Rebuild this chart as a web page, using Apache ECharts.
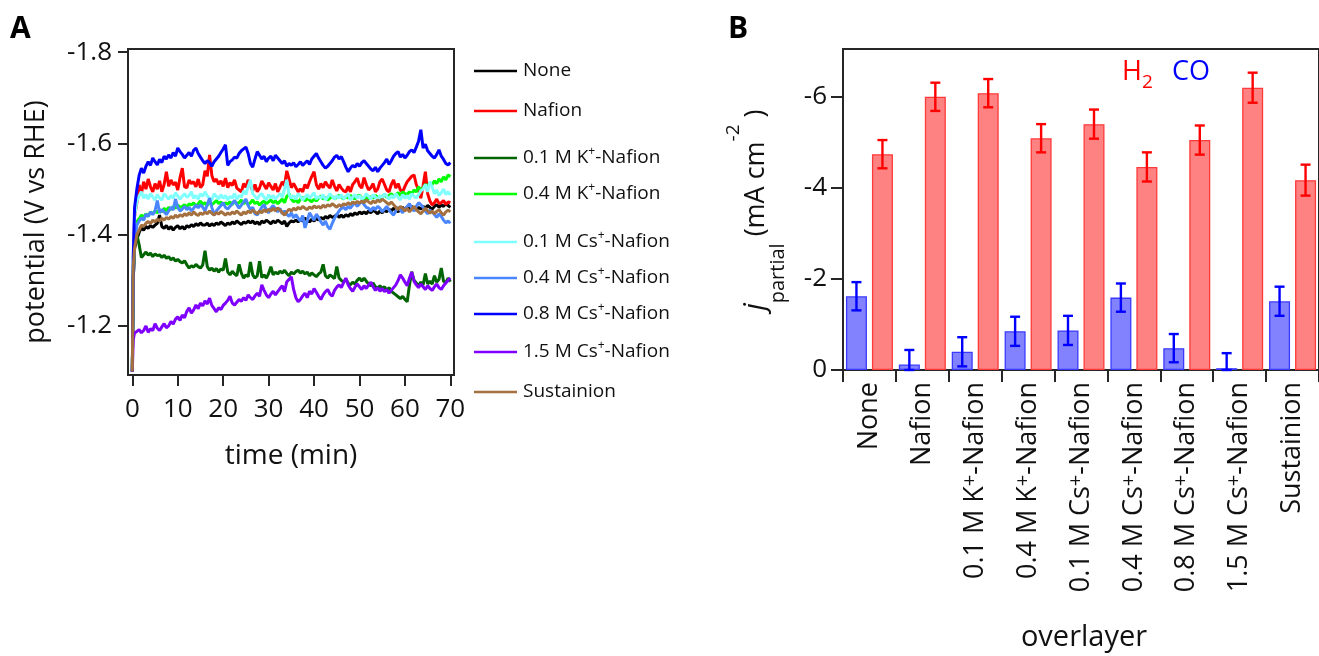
<!DOCTYPE html>
<html>
<head>
<meta charset="utf-8">
<script src="https://cdn.jsdelivr.net/npm/echarts@6/dist/echarts.min.js"></script>
<style>
  html, body { margin: 0; padding: 0; background: #fff; }
  #chart { width: 1319px; height: 656px; }
</style>
</head>
<body>
<div id="chart"></div>
<script>
// ---------- Panel A: potential vs time for each overlayer ----------
const minutes = [
  0, 0.2, 0.5,
  1, 1.5, 2, 2.5, 3, 3.5, 4, 4.5, 5, 5.5,
  6, 6.5, 7, 7.5, 8, 8.5, 9, 9.5, 10, 10.5,
  11, 11.5, 12, 12.5, 13, 13.5, 14, 14.5, 15, 15.5,
  16, 16.5, 17, 17.5, 18, 18.5, 19, 19.5, 20, 20.5,
  21, 21.5, 22, 22.5, 23, 23.5, 24, 24.5, 25, 25.5,
  26, 26.5, 27, 27.5, 28, 28.5, 29, 29.5, 30, 30.5,
  31, 31.5, 32, 32.5, 33, 33.5, 34, 34.5, 35, 35.5,
  36, 36.5, 37, 37.5, 38, 38.5, 39, 39.5, 40, 40.5,
  41, 41.5, 42, 42.5, 43, 43.5, 44, 44.5, 45, 45.5,
  46, 46.5, 47, 47.5, 48, 48.5, 49, 49.5, 50, 50.5,
  51, 51.5, 52, 52.5, 53, 53.5, 54, 54.5, 55, 55.5,
  56, 56.5, 57, 57.5, 58, 58.5, 59, 59.5, 60, 60.5,
  61, 61.5, 62, 62.5, 63, 63.5, 64, 64.5, 65, 65.5,
  66, 66.5, 67, 67.5, 68, 68.5, 69, 69.5, 70
];

const traceNames = [
  'None', 'Nafion', '0.1 M K+-Nafion', '0.4 M K+-Nafion',
  '0.1 M Cs+-Nafion', '0.4 M Cs+-Nafion', '0.8 M Cs+-Nafion',
  '1.5 M Cs+-Nafion', 'Sustainion'
];

const potNone = [
  -1.10, -1.30, -1.37,
  -1.39, -1.405, -1.415, -1.41, -1.418, -1.414, -1.42, -1.416, -1.421, -1.425,
  -1.443, -1.418, -1.414, -1.42, -1.412, -1.418, -1.41, -1.416, -1.42, -1.413,
  -1.418, -1.412, -1.42, -1.416, -1.422, -1.418, -1.424, -1.42, -1.426, -1.421,
  -1.421, -1.425, -1.419, -1.424, -1.42, -1.426, -1.422, -1.428, -1.424, -1.42,
  -1.426, -1.422, -1.428, -1.424, -1.43, -1.426, -1.422, -1.428, -1.425, -1.43,
  -1.426, -1.43, -1.424, -1.428, -1.422, -1.43, -1.426, -1.432, -1.428, -1.424,
  -1.43, -1.426, -1.432, -1.428, -1.424, -1.43, -1.418, -1.426, -1.43, -1.428,
  -1.432, -1.428, -1.434, -1.43, -1.436, -1.432, -1.428, -1.434, -1.43, -1.436,
  -1.432, -1.438, -1.434, -1.44, -1.436, -1.442, -1.438, -1.44, -1.444, -1.438,
  -1.443, -1.438, -1.444, -1.44, -1.446, -1.442, -1.448, -1.444, -1.45, -1.446,
  -1.45, -1.446, -1.452, -1.448, -1.454, -1.45, -1.446, -1.452, -1.448, -1.454,
  -1.45, -1.456, -1.452, -1.458, -1.454, -1.45, -1.456, -1.46, -1.455, -1.46,
  -1.456, -1.462, -1.458, -1.454, -1.46, -1.456, -1.462, -1.458, -1.464, -1.46,
  -1.456, -1.462, -1.466, -1.46, -1.465, -1.462, -1.468, -1.464, -1.46
];

const potNafion = [
  -1.10, -1.30, -1.44,
  -1.47, -1.509, -1.49, -1.516, -1.50, -1.522, -1.505, -1.494, -1.512, -1.50,
  -1.518, -1.494, -1.51, -1.538, -1.506, -1.52, -1.509, -1.515, -1.498, -1.525,
  -1.546, -1.505, -1.503, -1.52, -1.512, -1.516, -1.505, -1.522, -1.503, -1.51,
  -1.54, -1.528, -1.575, -1.53, -1.516, -1.522, -1.51, -1.518, -1.506, -1.524,
  -1.503, -1.514, -1.508, -1.52, -1.502, -1.498, -1.494, -1.512, -1.504, -1.52,
  -1.508, -1.496, -1.51, -1.494, -1.502, -1.518, -1.509, -1.50, -1.514, -1.506,
  -1.498, -1.512, -1.494, -1.504, -1.516, -1.508, -1.54, -1.522, -1.503, -1.512,
  -1.503, -1.494, -1.50, -1.494, -1.51, -1.502, -1.516, -1.528, -1.538, -1.51,
  -1.50, -1.512, -1.503, -1.516, -1.508, -1.502, -1.52, -1.506, -1.496, -1.51,
  -1.502, -1.496, -1.494, -1.506, -1.494, -1.51, -1.516, -1.524, -1.508, -1.502,
  -1.525, -1.51, -1.498, -1.503, -1.512, -1.494, -1.50, -1.516, -1.522, -1.51,
  -1.498, -1.494, -1.51, -1.52, -1.502, -1.512, -1.498, -1.494, -1.506, -1.516,
  -1.522, -1.528, -1.531, -1.51, -1.498, -1.48, -1.508, -1.538, -1.49, -1.474,
  -1.465, -1.47, -1.478, -1.468, -1.47, -1.475, -1.466, -1.472, -1.47
];

const potK01 = [
  -1.10, -1.30, -1.38,
  -1.40, -1.378, -1.35, -1.356, -1.362, -1.355, -1.36, -1.352, -1.358, -1.354,
  -1.356, -1.35, -1.355, -1.348, -1.352, -1.345, -1.349, -1.342, -1.346, -1.341,
  -1.338, -1.343, -1.334, -1.327, -1.332, -1.329, -1.335, -1.33, -1.327, -1.334,
  -1.365, -1.33, -1.322, -1.327, -1.32, -1.326, -1.318, -1.325, -1.322, -1.348,
  -1.318, -1.312, -1.32, -1.314, -1.31, -1.335, -1.316, -1.305, -1.312, -1.308,
  -1.34, -1.312, -1.305, -1.31, -1.342, -1.306, -1.312, -1.305, -1.315, -1.33,
  -1.312, -1.318, -1.314, -1.32, -1.316, -1.322, -1.315, -1.31, -1.318, -1.314,
  -1.319, -1.322, -1.316, -1.32, -1.314, -1.318, -1.31, -1.316, -1.312, -1.308,
  -1.314, -1.318, -1.335, -1.31, -1.305, -1.312, -1.308, -1.304, -1.33, -1.305,
  -1.30, -1.296, -1.302, -1.294, -1.29, -1.296, -1.292, -1.30, -1.305, -1.298,
  -1.305, -1.298, -1.292, -1.288, -1.294, -1.286, -1.283, -1.288, -1.282, -1.286,
  -1.278, -1.284, -1.276, -1.272, -1.268, -1.264, -1.26, -1.265, -1.258, -1.253,
  -1.29, -1.319, -1.30, -1.294, -1.288, -1.296, -1.29, -1.315, -1.292, -1.298,
  -1.292, -1.31, -1.296, -1.302, -1.327, -1.298, -1.295, -1.305, -1.297
];

const potK04 = [
  -1.10, -1.32, -1.40,
  -1.429, -1.435, -1.443, -1.438, -1.446, -1.44, -1.45, -1.446, -1.452, -1.448,
  -1.455, -1.45, -1.458, -1.452, -1.46, -1.455, -1.462, -1.458, -1.465, -1.46,
  -1.462, -1.466, -1.46, -1.468, -1.465, -1.47, -1.462, -1.468, -1.474, -1.466,
  -1.47, -1.464, -1.472, -1.466, -1.47, -1.475, -1.468, -1.472, -1.465, -1.47,
  -1.467, -1.472, -1.466, -1.474, -1.468, -1.47, -1.476, -1.468, -1.472, -1.466,
  -1.47, -1.476, -1.468, -1.472, -1.465, -1.47, -1.474, -1.468, -1.472, -1.476,
  -1.47, -1.474, -1.468, -1.473, -1.478, -1.47, -1.484, -1.49, -1.478, -1.472,
  -1.476, -1.47, -1.478, -1.482, -1.474, -1.48, -1.476, -1.472, -1.478, -1.474,
  -1.48, -1.485, -1.478, -1.482, -1.476, -1.48, -1.484, -1.478, -1.482, -1.487,
  -1.482, -1.478, -1.484, -1.48, -1.486, -1.482, -1.478, -1.484, -1.487, -1.48,
  -1.476, -1.482, -1.478, -1.484, -1.48, -1.486, -1.482, -1.478, -1.484, -1.488,
  -1.482, -1.486, -1.49, -1.484, -1.488, -1.492, -1.486, -1.494, -1.49, -1.488,
  -1.494, -1.49, -1.498, -1.494, -1.505, -1.498, -1.502, -1.51, -1.506, -1.514,
  -1.51, -1.518, -1.512, -1.522, -1.516, -1.527, -1.52, -1.531, -1.527
];

const potCs01 = [
  -1.10, -1.35, -1.44,
  -1.473, -1.485, -1.494, -1.48, -1.488, -1.478, -1.49, -1.483, -1.476, -1.488,
  -1.48, -1.476, -1.49, -1.484, -1.478, -1.486, -1.48, -1.492, -1.485, -1.478,
  -1.484, -1.49, -1.482, -1.486, -1.494, -1.48, -1.486, -1.478, -1.49, -1.484,
  -1.494, -1.485, -1.48, -1.476, -1.49, -1.484, -1.478, -1.488, -1.48, -1.486,
  -1.476, -1.484, -1.48, -1.49, -1.478, -1.486, -1.482, -1.496, -1.488, -1.505,
  -1.52, -1.49, -1.484, -1.478, -1.486, -1.49, -1.482, -1.476, -1.488, -1.48,
  -1.486, -1.478, -1.484, -1.49, -1.482, -1.50, -1.52, -1.488, -1.48, -1.486,
  -1.478, -1.49, -1.484, -1.476, -1.482, -1.488, -1.48, -1.486, -1.492, -1.478,
  -1.484, -1.48, -1.488, -1.476, -1.482, -1.49, -1.484, -1.478, -1.486, -1.48,
  -1.488, -1.478, -1.484, -1.49, -1.476, -1.482, -1.488, -1.48, -1.486, -1.478,
  -1.482, -1.49, -1.484, -1.478, -1.488, -1.482, -1.476, -1.486, -1.48, -1.49,
  -1.484, -1.478, -1.486, -1.48, -1.49, -1.482, -1.476, -1.488, -1.48, -1.486,
  -1.478, -1.49, -1.484, -1.48, -1.488, -1.496, -1.50, -1.51, -1.494, -1.516,
  -1.504, -1.49, -1.498, -1.486, -1.492, -1.50, -1.488, -1.494, -1.487
];

const potCs04 = [
  -1.10, -1.30, -1.38,
  -1.421, -1.43, -1.437, -1.432, -1.445, -1.44, -1.45, -1.444, -1.452, -1.475,
  -1.448, -1.455, -1.45, -1.444, -1.452, -1.46, -1.454, -1.478, -1.46, -1.452,
  -1.456, -1.462, -1.455, -1.46, -1.452, -1.458, -1.465, -1.459, -1.466, -1.46,
  -1.452, -1.466, -1.48, -1.46, -1.443, -1.452, -1.458, -1.464, -1.47, -1.46,
  -1.456, -1.462, -1.468, -1.475, -1.466, -1.458, -1.465, -1.472, -1.478, -1.464,
  -1.455, -1.46, -1.446, -1.443, -1.452, -1.46, -1.466, -1.454, -1.448, -1.458,
  -1.464, -1.456, -1.45, -1.458, -1.446, -1.452, -1.445, -1.44, -1.448, -1.437,
  -1.444, -1.436, -1.43, -1.442, -1.415, -1.43, -1.448, -1.44, -1.432, -1.445,
  -1.438, -1.428, -1.421, -1.43, -1.418, -1.412, -1.425, -1.436, -1.444, -1.452,
  -1.458, -1.46, -1.455, -1.462, -1.458, -1.465, -1.47, -1.462, -1.468, -1.473,
  -1.466, -1.46, -1.458, -1.452, -1.46, -1.455, -1.462, -1.458, -1.45, -1.456,
  -1.462, -1.454, -1.448, -1.443, -1.452, -1.46, -1.454, -1.448, -1.456, -1.462,
  -1.468, -1.458, -1.452, -1.462, -1.47, -1.466, -1.46, -1.452, -1.446, -1.454,
  -1.45, -1.444, -1.438, -1.446, -1.44, -1.432, -1.426, -1.43, -1.425
];

const potCs08 = [
  -1.10, -1.35, -1.46,
  -1.50, -1.53, -1.546, -1.535, -1.55, -1.56, -1.552, -1.568, -1.56, -1.553,
  -1.565, -1.558, -1.572, -1.566, -1.575, -1.568, -1.58, -1.572, -1.59, -1.582,
  -1.576, -1.568, -1.574, -1.58, -1.572, -1.585, -1.59, -1.578, -1.57, -1.562,
  -1.556, -1.562, -1.558, -1.55, -1.56, -1.566, -1.572, -1.58, -1.588, -1.597,
  -1.552, -1.56, -1.564, -1.57, -1.568, -1.578, -1.584, -1.588, -1.592, -1.578,
  -1.556, -1.548, -1.566, -1.582, -1.574, -1.566, -1.572, -1.56, -1.568, -1.572,
  -1.562, -1.574, -1.568, -1.562, -1.556, -1.562, -1.55, -1.556, -1.552, -1.558,
  -1.549, -1.554, -1.56, -1.552, -1.557, -1.562, -1.554, -1.566, -1.572, -1.578,
  -1.568, -1.56, -1.552, -1.546, -1.55, -1.556, -1.562, -1.57, -1.574, -1.566,
  -1.571, -1.56, -1.548, -1.538, -1.546, -1.552, -1.548, -1.556, -1.55, -1.558,
  -1.562, -1.556, -1.55, -1.544, -1.54, -1.548, -1.538, -1.546, -1.552, -1.558,
  -1.566, -1.554, -1.562, -1.572, -1.578, -1.582, -1.57, -1.576, -1.568, -1.574,
  -1.582, -1.586, -1.58, -1.592, -1.605, -1.63, -1.59, -1.598, -1.584, -1.578,
  -1.572, -1.568, -1.576, -1.586, -1.572, -1.565, -1.556, -1.553, -1.558
];

const potCs15 = [
  -1.10, -1.17, -1.185,
  -1.188, -1.192, -1.185, -1.19, -1.20, -1.186, -1.194, -1.19, -1.205, -1.195,
  -1.19, -1.198, -1.205, -1.196, -1.20, -1.21, -1.204, -1.215, -1.22, -1.212,
  -1.224, -1.218, -1.232, -1.24, -1.228, -1.235, -1.246, -1.238, -1.25, -1.244,
  -1.255, -1.248, -1.261, -1.245, -1.238, -1.231, -1.24, -1.236, -1.245, -1.25,
  -1.256, -1.265, -1.25, -1.246, -1.252, -1.258, -1.254, -1.262, -1.256, -1.268,
  -1.262, -1.258, -1.266, -1.272, -1.265, -1.29, -1.278, -1.268, -1.262, -1.27,
  -1.276, -1.268, -1.275, -1.282, -1.288, -1.275, -1.297, -1.302, -1.308, -1.28,
  -1.262, -1.253, -1.258, -1.266, -1.272, -1.262, -1.276, -1.27, -1.282, -1.274,
  -1.265, -1.258, -1.268, -1.275, -1.28, -1.27, -1.265, -1.278, -1.285, -1.29,
  -1.284, -1.295, -1.305, -1.29, -1.282, -1.276, -1.285, -1.292, -1.286, -1.28,
  -1.288, -1.282, -1.29, -1.296, -1.286, -1.278, -1.284, -1.276, -1.282, -1.275,
  -1.28, -1.272, -1.278, -1.284, -1.29, -1.30, -1.312, -1.305, -1.296, -1.288,
  -1.305, -1.318, -1.298, -1.29, -1.284, -1.292, -1.286, -1.28, -1.288, -1.282,
  -1.278, -1.286, -1.292, -1.284, -1.28, -1.288, -1.294, -1.30, -1.305
];

const potSustainion = [
  -1.10, -1.33, -1.371,
  -1.40, -1.41, -1.421, -1.418, -1.425, -1.429, -1.424, -1.432, -1.428, -1.434,
  -1.43, -1.436, -1.432, -1.438, -1.434, -1.44, -1.436, -1.443, -1.438, -1.444,
  -1.44, -1.446, -1.442, -1.448, -1.443, -1.45, -1.445, -1.442, -1.448, -1.444,
  -1.45, -1.446, -1.452, -1.447, -1.443, -1.449, -1.445, -1.451, -1.447, -1.443,
  -1.448, -1.444, -1.45, -1.446, -1.452, -1.447, -1.443, -1.45, -1.446, -1.452,
  -1.448, -1.454, -1.45, -1.446, -1.452, -1.448, -1.455, -1.45, -1.456, -1.452,
  -1.458, -1.452, -1.459, -1.454, -1.448, -1.443, -1.45, -1.456, -1.452, -1.458,
  -1.454, -1.46, -1.456, -1.462, -1.458, -1.455, -1.461, -1.457, -1.463, -1.459,
  -1.462, -1.458, -1.465, -1.46, -1.466, -1.462, -1.468, -1.464, -1.46, -1.466,
  -1.462, -1.468, -1.465, -1.47, -1.466, -1.472, -1.468, -1.473, -1.469, -1.474,
  -1.47, -1.476, -1.472, -1.468, -1.474, -1.47, -1.476, -1.472, -1.478, -1.474,
  -1.47, -1.466, -1.472, -1.466, -1.46, -1.455, -1.462, -1.458, -1.452, -1.458,
  -1.45, -1.456, -1.462, -1.455, -1.45, -1.446, -1.452, -1.458, -1.452, -1.447,
  -1.452, -1.446, -1.451, -1.455, -1.448, -1.443, -1.45, -1.454, -1.45
];

const traceValues = [
  potNone, potNafion, potK01, potK04, potCs01, potCs04, potCs08, potCs15, potSustainion
];
const traceColors = [
  '#000000', '#ff0000', '#006400', '#00ff00', '#80ffff', '#4a86ff', '#0000ff', '#7f00ff', '#a5703f'
];

const timeTicks = [0, 10, 20, 30, 40, 50, 60, 70];
const potentialTicks = [-1.8, -1.6, -1.4, -1.2];

// ---------- Panel B: partial current densities ----------
const overlayers = [
  'None', 'Nafion', '0.1 M K+-Nafion', '0.4 M K+-Nafion', '0.1 M Cs+-Nafion',
  '0.4 M Cs+-Nafion', '0.8 M Cs+-Nafion', '1.5 M Cs+-Nafion', 'Sustainion'
];
const jCO     = [-1.62, -0.12, -0.40, -0.85, -0.87, -1.59, -0.48, -0.04, -1.51];
const jCOErr  = [0.31, 0.32, 0.32, 0.32, 0.32, 0.31, 0.31, 0.33, 0.32];
const jH2     = [-4.74, -6.00, -6.08, -5.09, -5.40, -4.46, -5.05, -6.20, -4.17];
const jH2Err  = [0.31, 0.31, 0.31, 0.31, 0.32, 0.32, 0.32, 0.33, 0.34];
const jTicks  = [-6, -4, -2, 0];

// ---------- layout ----------
const FONT = '"Open Sans", "DejaVu Sans", sans-serif';
const INK = '#111';
const FRAME = '#262626';
const legendRowsY = [71, 111, 158, 194, 242, 278, 314, 352, 392];
const BAR_W = 21;
const BAR_GAP = 5;

const supStyle = (size) => ({
  fontSize: size, lineHeight: size, verticalAlign: 'top', fontFamily: FONT, color: INK
});
const withSup = (s) => s.replace('+', '{sup|+}');

const lineSeries = traceNames.map((name, i) => ({
  type: 'line',
  name: name,
  xAxisIndex: 0,
  yAxisIndex: 0,
  data: minutes.map((t, k) => [t, traceValues[i][k]]).filter(p => p[1] !== undefined),
  showSymbol: false,
  symbol: 'none',
  color: traceColors[i],
  lineStyle: { width: 3, color: traceColors[i] },
  itemStyle: { color: traceColors[i] },
  z: 2 + i
}));

const legends = traceNames.map((name, i) => ({
  data: [name],
  orient: 'vertical',
  left: 474,
  top: legendRowsY[i] - 12,
  padding: 0,
  icon: 'rect',
  itemWidth: 43,
  itemHeight: 2.5,
  itemGap: 0,
  selectedMode: false,
  formatter: withSup,
  textStyle: {
    fontFamily: FONT, fontSize: 19, color: INK, lineHeight: 24, padding: [0, 0, 0, 1],
    rich: { sup: supStyle(12) }
  }
}));

function errorBars(values, errs, offset, color) {
  return {
    type: 'custom',
    xAxisIndex: 1,
    yAxisIndex: 1,
    z: 10,
    data: values.map((v, i) => [i, v, errs[i]]),
    renderItem: function (params, api) {
      const i = api.value(0);
      const v = api.value(1);
      const e = api.value(2);
      const top = api.coord([i, v - e]);
      const bot = api.coord([i, Math.min(v + e, 0)]);
      const x = top[0] + offset;
      const cap = 5;
      const st = { stroke: color, lineWidth: 2.4 };
      return {
        type: 'group',
        children: [
          { type: 'line', shape: { x1: x, y1: top[1], x2: x, y2: bot[1] }, style: st },
          { type: 'line', shape: { x1: x - cap, y1: top[1], x2: x + cap, y2: top[1] }, style: st },
          { type: 'line', shape: { x1: x - cap, y1: bot[1], x2: x + cap, y2: bot[1] }, style: st }
        ]
      };
    }
  };
}

const option = {
  animation: false,
  backgroundColor: '#ffffff',
  textStyle: { fontFamily: FONT },
  legend: legends,
  grid: [
    { left: 128, top: 49, width: 326, height: 326, show: true, borderColor: FRAME, borderWidth: 2, backgroundColor: 'transparent' },
    { left: 843, top: 49, width: 478, height: 321, show: true, borderColor: FRAME, borderWidth: 2, backgroundColor: 'transparent' }
  ],
  xAxis: [
    {
      type: 'value', gridIndex: 0, min: -0.95, max: 70.8,
      axisLine: { show: true, onZero: false, lineStyle: { color: FRAME, width: 2 } },
      axisTick: { show: true, length: 11, lineStyle: { color: FRAME, width: 2 }, customValues: timeTicks },
      axisLabel: { customValues: timeTicks, fontSize: 26, color: INK, margin: 22, fontFamily: FONT },
      splitLine: { show: false }
    },
    {
      type: 'category', gridIndex: 1, data: overlayers,
      axisLine: { show: true, onZero: false, lineStyle: { color: FRAME, width: 2 } },
      axisTick: { show: true, length: 12, lineStyle: { color: FRAME, width: 2 } },
      axisLabel: {
        interval: 0, rotate: 90, fontSize: 27, color: INK, margin: 12, fontFamily: FONT,
        lineHeight: 30, formatter: withSup, rich: { sup: supStyle(20) }
      },
      splitLine: { show: false }
    }
  ],
  yAxis: [
    {
      type: 'value', gridIndex: 0, inverse: true, min: -1.807, max: -1.0925,
      axisLine: { show: true, onZero: false, lineStyle: { color: FRAME, width: 2 } },
      axisTick: { show: true, length: 10, lineStyle: { color: FRAME, width: 2 }, customValues: potentialTicks },
      axisLabel: { customValues: potentialTicks, fontSize: 26, color: INK, margin: 16, fontFamily: FONT,
        formatter: v => v.toFixed(1) },
      splitLine: { show: false }
    },
    {
      type: 'value', gridIndex: 1, inverse: true, min: -7.05, max: 0,
      axisLine: { show: true, onZero: false, lineStyle: { color: FRAME, width: 2 } },
      axisTick: { show: true, length: 12, lineStyle: { color: FRAME, width: 2 }, customValues: jTicks },
      axisLabel: { customValues: jTicks, fontSize: 26, color: INK, margin: 16, fontFamily: FONT },
      splitLine: { show: false }
    }
  ],
  series: [
    ...lineSeries,
    {
      type: 'bar', name: 'CO', xAxisIndex: 1, yAxisIndex: 1, data: jCO,
      barWidth: BAR_W, barGap: (BAR_GAP / BAR_W * 100).toFixed(1) + '%',
      itemStyle: { color: '#8282ff', borderColor: '#3a3aff', borderWidth: 1.3 }, z: 3
    },
    {
      type: 'bar', name: 'H2', xAxisIndex: 1, yAxisIndex: 1, data: jH2,
      barWidth: BAR_W,
      itemStyle: { color: '#ff8282', borderColor: '#ff3a3a', borderWidth: 1.3 }, z: 3
    },
    errorBars(jCO, jCOErr, -(BAR_W + BAR_GAP) / 2, '#0000ff'),
    errorBars(jH2, jH2Err, (BAR_W + BAR_GAP) / 2, '#ff0000')
  ],
  graphic: [
    { type: 'text', left: 10, top: 14, style: { text: 'A', fontSize: 30, fontWeight: 'bold', fontFamily: FONT, fill: '#000' } },
    { type: 'text', left: 728, top: 14, style: { text: 'B', fontSize: 30, fontWeight: 'bold', fontFamily: FONT, fill: '#000' } },
    { type: 'text', x: 36, y: 222, rotation: Math.PI / 2,
      style: { text: 'potential (V vs RHE)', fontSize: 27, fontFamily: FONT, fill: INK, align: 'center', verticalAlign: 'middle' } },
    { type: 'text', x: 291, y: 456,
      style: { text: 'time (min)', fontSize: 28, fontFamily: FONT, fill: INK, align: 'center', verticalAlign: 'middle' } },
    { type: 'text', x: 756, y: 210, rotation: Math.PI / 2,
      style: {
        text: '{j|j}{sub|partial}{n| (mA cm}{sup|-2}{n| )}',
        align: 'center', verticalAlign: 'middle',
        rich: {
          j: { fontSize: 29, fontStyle: 'italic', lineHeight: 64, fontFamily: FONT, fill: INK },
          sub: { fontSize: 20, lineHeight: 44, verticalAlign: 'bottom', fontFamily: FONT, fill: INK },
          n: { fontSize: 27, lineHeight: 64, fontFamily: FONT, fill: INK },
          sup: { fontSize: 19, lineHeight: 19, verticalAlign: 'top', fontFamily: FONT, fill: INK }
        }
      } },
    { type: 'text', x: 1122, y: 72,
      style: {
        text: '{h|H}{s|2}', align: 'left', verticalAlign: 'middle',
        rich: {
          h: { fontSize: 27, lineHeight: 40, fontFamily: FONT, fill: '#ff0000' },
          s: { fontSize: 19, lineHeight: 16, verticalAlign: 'bottom', fontFamily: FONT, fill: '#ff0000' }
        }
      } },
    { type: 'text', x: 1172, y: 72,
      style: { text: 'CO', fontSize: 27, fontFamily: FONT, fill: '#0000ff', align: 'left', verticalAlign: 'middle' } },
    { type: 'text', x: 1084, y: 638,
      style: { text: 'overlayer', fontSize: 29, fontFamily: FONT, fill: INK, align: 'center', verticalAlign: 'middle' } }
  ]
};

const chart = echarts.init(document.getElementById('chart'), null, { renderer: 'canvas' });
chart.setOption(option);
</script>
</body>
</html>
